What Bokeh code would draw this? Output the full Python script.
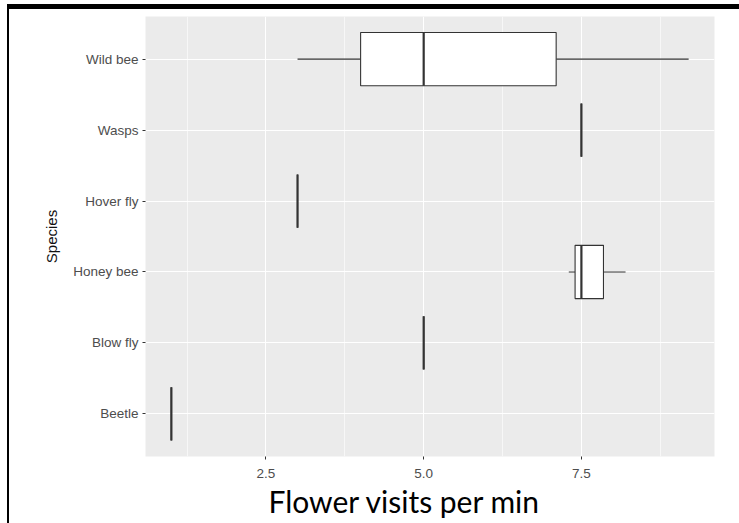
from bokeh.plotting import figure
from bokeh.models import FactorRange, Range1d, FixedTicker, ColumnDataSource, Title
from bokeh.layouts import column
from bokeh.embed import file_html
from bokeh.resources import INLINE

# ---- data ----
species = ["Beetle", "Blow fly", "Honey bee", "Hover fly", "Wasps", "Wild bee"]
whisker_low = [1.0, 5.0, 7.3, 3.0, 7.5, 3.0]
q1 = [1.0, 5.0, 7.4, 3.0, 7.5, 4.0]
median = [1.0, 5.0, 7.5, 3.0, 7.5, 5.0]
q3 = [1.0, 5.0, 7.85, 3.0, 7.5, 7.1]
whisker_high = [1.0, 5.0, 8.2, 3.0, 7.5, 9.2]

x_ticks = [2.5, 5.0, 7.5]
x_tick_labels = ["2.5", "5.0", "7.5"]
x_minor_ticks = [1.25, 3.75, 6.25, 8.75]

x_title = "Flower visits per min"
y_title = "Species"

box_width = 0.75
half = box_width / 2

src = ColumnDataSource(dict(
    species=species, lo=whisker_low, q1=q1, med=median, q3=q3, hi=whisker_high,
    y0=[(s, -half) for s in species], y1=[(s, half) for s in species],
))

p = figure(
    width=730, height=514,
    y_range=FactorRange(factors=species, range_padding=0.1, range_padding_units="absolute"),
    x_range=Range1d(0.59, 9.61),
    output_backend="svg", toolbar_location=None,
    min_border_left=136, min_border_right=25, min_border_top=7, min_border_bottom=0,
)
p.background_fill_color = "#EBEBEB"
p.border_fill_color = "white"
p.outline_line_color = None

# grid
p.xaxis.ticker = FixedTicker(ticks=x_ticks, minor_ticks=x_minor_ticks)
p.xaxis.major_label_overrides = {t: l for t, l in zip(x_ticks, x_tick_labels)}
p.xgrid.grid_line_color = "white"
p.xgrid.grid_line_width = 1.1
p.xgrid.minor_grid_line_color = "white"
p.xgrid.minor_grid_line_width = 0.6
p.ygrid.grid_line_color = "white"
p.ygrid.grid_line_width = 1.1

for ax in (p.xaxis[0], p.yaxis[0]):
    ax.axis_line_color = None
    ax.major_tick_line_color = "#333333"
    ax.major_tick_out = 3
    ax.major_tick_in = 0
    ax.minor_tick_line_color = None
    ax.major_label_text_color = "#4d4d4d"
    ax.major_label_text_font = "Liberation Sans"
    ax.major_label_text_font_size = "13.5px"

p.xaxis.major_label_standoff = 8
p.yaxis.major_label_standoff = 4
p.yaxis.axis_label = y_title
p.yaxis.axis_label_text_font = "Liberation Sans"
p.yaxis.axis_label_text_font_size = "15px"
p.yaxis.axis_label_text_font_style = "normal"
p.yaxis.axis_label_text_color = "#111111"
p.yaxis.axis_label_standoff = 10

# boxplots
p.segment(x0="lo", y0="species", x1="q1", y1="species", source=src, line_color="#333333", line_width=1.1)
p.segment(x0="q3", y0="species", x1="hi", y1="species", source=src, line_color="#333333", line_width=1.1)
p.hbar(y="species", left="q1", right="q3", height=box_width, source=src,
       fill_color="white", line_color="#333333", line_width=1.1)
p.segment(x0="med", y0="y0", x1="med", y1="y1", source=src, line_color="#333333", line_width=2.2)

# x title, placed below the axis and offset left of centre as in the original
p.add_layout(Title(text=x_title, align="left", offset=123, standoff=0,
                   text_font="Lato", text_font_size="30px", text_font_style="normal",
                   text_color="black"), "below")
p.min_border_bottom = 67

layout = column(p, styles={"margin-left": "7px", "margin-top": "4px",
                           "border-top": "5px solid black", "border-left": "2px solid black"})

open("out.html", "w").write(file_html(layout, INLINE))
